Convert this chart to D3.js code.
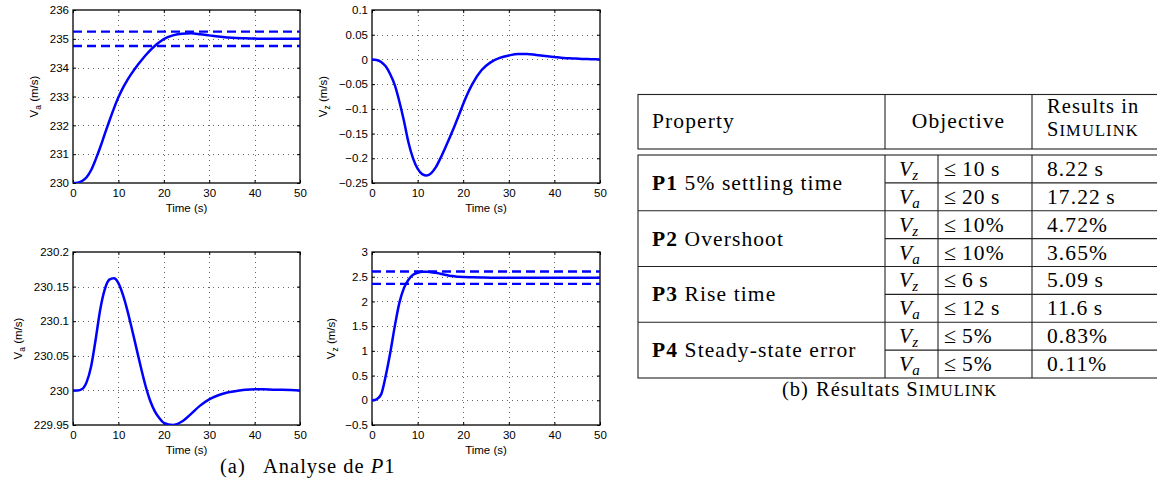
<!DOCTYPE html>
<html><head><meta charset="utf-8">
<script src="https://cdn.jsdelivr.net/npm/d3@7"></script>
<style>body{margin:0;background:#fff;} svg{display:block;}</style>
</head><body>
<svg id="c" width="1157" height="501"></svg>
<script>
// ---------- DATA ----------
const time   = [0,1,2,3,4,5,6,7,8,9,10,11,12,13,14,15,16,17,18,19,20,22,24,26,28,30,32,34,36,38,40,42,44,46,48,50];
// (1) Va response to Va step (m/s)
const vaStep = [230,230.01,230.07,230.2,230.45,230.82,231.24,231.7,232.15,232.58,232.97,233.3,233.58,233.82,234.04,234.24,234.43,234.6,234.75,234.88,234.99,235.12,235.18,235.19,235.16,235.12,235.08,235.05,235.03,235.02,235.01,235.0,235.0,235.0,235.0,235.0];
// (2) Vz response to Va step (m/s)
const vzDist = [0,-0.001,-0.005,-0.014,-0.03,-0.052,-0.085,-0.124,-0.168,-0.2,-0.221,-0.232,-0.235,-0.23,-0.218,-0.2,-0.18,-0.159,-0.137,-0.114,-0.09,-0.05,-0.022,-0.006,0.003,0.008,0.011,0.011,0.009,0.007,0.005,0.003,0.002,0.001,0.0005,0];
// (3) Va response to Vz step (m/s)
const vaDist = [230,230,230.002,230.012,230.035,230.074,230.117,230.146,230.16,230.162,230.155,230.138,230.115,230.088,230.06,230.032,230.006,229.985,229.97,229.96,229.953,229.95,229.955,229.966,229.978,229.987,229.993,229.997,229.999,230.001,230.0015,230.0015,230.001,230.0008,230.0004,230];
// (4) Vz response to Vz step (m/s)
const vzStep = [0,0.02,0.12,0.49,0.96,1.5,1.97,2.27,2.44,2.54,2.58,2.6,2.6,2.59,2.58,2.56,2.54,2.52,2.51,2.5,2.495,2.49,2.485,2.48,2.48,2.48,2.48,2.48,2.48,2.48,2.48,2.48,2.48,2.48,2.48,2.48];
// tolerance bands (5%)
const vaBand = [234.75, 235.25];
const vzBand = [2.355, 2.605];
// ticks
const xTicks = [0,10,20,30,40,50];
const yTicks1 = [230,231,232,233,234,235,236];
const yLabels1 = ["230","231","232","233","234","235","236"];
const yTicks2 = [-0.25,-0.2,-0.15,-0.1,-0.05,0,0.05,0.1];
const yLabels2 = ["\u22120.25","\u22120.2","\u22120.15","\u22120.1","\u22120.05","0","0.05","0.1"];
const yTicks3 = [229.95,230,230.05,230.1,230.15,230.2];
const yLabels3 = ["229.95","230","230.05","230.1","230.15","230.2"];
const yTicks4 = [-0.5,0,0.5,1,1.5,2,2.5,3];
const yLabels4 = ["\u22120.5","0","0.5","1","1.5","2","2.5","3"];

// table
const propIds   = ["P1","P2","P3","P4"];
const propNames = ["5% settling time","Overshoot","Rise time","Steady-state error"];
const objVz = ["10\u2009s","10%","6\u2009s","5%"];
const objVa = ["20\u2009s","10%","12\u2009s","5%"];
const resVz = ["8.22\u2009s","4.72%","5.09\u2009s","0.83%"];
const resVa = ["17.22\u2009s","3.65%","11.6\u2009s","0.11%"];

// ---------- DRAW ----------
const svg = d3.select("#c");
const SANS = "'Liberation Sans', Arial, Helvetica, sans-serif";
const SERIF = "'Liberation Serif', 'Times New Roman', serif";
let clipId = 0;

function plot(cfg){
  const x = d3.scaleLinear().domain([0,50]).range([cfg.x0, cfg.x1]);
  const y = d3.scaleLinear().domain([cfg.yTicks[0], cfg.yTicks[cfg.yTicks.length-1]]).range([cfg.y1, cfg.y0]);
  const g = svg.append("g");
  const id = "clip" + (clipId++);
  g.append("clipPath").attr("id", id).append("rect")
    .attr("x", cfg.x0).attr("y", cfg.y0).attr("width", cfg.x1-cfg.x0).attr("height", cfg.y1-cfg.y0);

  // grid
  g.selectAll(".gx").data(xTicks.slice(1,-1)).join("line")
    .attr("x1", d=>Math.round(x(d))+0.5).attr("x2", d=>Math.round(x(d))+0.5)
    .attr("y1", cfg.y0).attr("y2", cfg.y1)
    .attr("stroke","#666").attr("stroke-width",1).attr("stroke-dasharray","1,4");
  g.selectAll(".gy").data(cfg.yTicks.slice(1,-1)).join("line")
    .attr("y1", d=>Math.round(y(d))+0.5).attr("y2", d=>Math.round(y(d))+0.5)
    .attr("x1", cfg.x0).attr("x2", cfg.x1)
    .attr("stroke","#666").attr("stroke-width",1).attr("stroke-dasharray","1,4");

  // axes
  g.append("g").attr("transform", `translate(0,${cfg.y1})`)
    .call(d3.axisBottom(x).tickValues(xTicks).tickSizeInner(-3).tickSizeOuter(0).tickPadding(6));
  g.append("g").attr("transform", `translate(${cfg.x0},0)`)
    .call(d3.axisLeft(y).tickValues(cfg.yTicks).tickFormat((d,i)=>cfg.yLabels[i]).tickSizeInner(-3).tickSizeOuter(0).tickPadding(4));
  g.append("g").attr("transform", `translate(0,${cfg.y0})`)
    .call(d3.axisTop(x).tickValues(xTicks).tickSizeInner(-3).tickSizeOuter(0).tickFormat(""));
  g.append("g").attr("transform", `translate(${cfg.x1},0)`)
    .call(d3.axisRight(y).tickValues(cfg.yTicks).tickSizeInner(-3).tickSizeOuter(0).tickFormat(""));
  g.selectAll(".domain").remove();
  g.selectAll(".tick line").attr("stroke","#000");
  g.selectAll(".tick text").attr("font-family", SANS).attr("font-size", 11.5).attr("fill","#000");

  // frame
  g.append("rect").attr("x", cfg.x0).attr("y", cfg.y0)
    .attr("width", cfg.x1-cfg.x0).attr("height", cfg.y1-cfg.y0)
    .attr("fill","none").attr("stroke","#000").attr("stroke-width",1.3);

  const pg = g.append("g").attr("clip-path", `url(#${id})`);
  if (cfg.band){
    pg.selectAll(".band").data(cfg.band).join("line")
      .attr("x1", x(0)).attr("x2", x(50)).attr("y1", d=>y(d)).attr("y2", d=>y(d))
      .attr("stroke","#0000ff").attr("stroke-width",2.4).attr("stroke-dasharray","9,5");
  }
  const line = d3.line().x((d,i)=>x(time[i])).y(d=>y(d)).curve(d3.curveMonotoneX);
  pg.append("path").datum(cfg.values).attr("d", line)
    .attr("fill","none").attr("stroke","#0000ff").attr("stroke-width",2.5);

  // labels
  g.append("text").attr("x", (cfg.x0+cfg.x1)/2).attr("y", cfg.y1+29)
    .attr("text-anchor","middle").attr("font-family",SANS).attr("font-size",11.5).text("Time (s)");
  const yl = g.append("text")
    .attr("transform", `translate(${cfg.ylx},${(cfg.y0+cfg.y1)/2}) rotate(-90)`)
    .attr("text-anchor","middle").attr("font-family",SANS).attr("font-size",11.5);
  yl.append("tspan").text("V");
  yl.append("tspan").attr("font-size",8.5).attr("dy",3).text(cfg.sub);
  yl.append("tspan").attr("dy",-3).text(" (m/s)");
}

plot({x0:73,x1:300,y0:10,y1:183,yTicks:yTicks1,yLabels:yLabels1,values:vaStep,band:vaBand,ylx:38,sub:"a"});
plot({x0:372,x1:600,y0:10,y1:183,yTicks:yTicks2,yLabels:yLabels2,values:vzDist,ylx:327,sub:"z"});
plot({x0:73,x1:300,y0:252,y1:425,yTicks:yTicks3,yLabels:yLabels3,values:vaDist,ylx:22,sub:"a"});
plot({x0:372,x1:600,y0:252,y1:425,yTicks:yTicks4,yLabels:yLabels4,values:vzStep,band:vzBand,ylx:335,sub:"z"});

// caption (a)
const capA = svg.append("text").attr("y",473).attr("font-family",SERIF).attr("font-size",20.5).attr("letter-spacing",1);
capA.append("tspan").attr("x",220).text("(a)");
capA.append("tspan").attr("x",263).text("Analyse de ");
capA.append("tspan").attr("font-style","italic").text("P");
capA.append("tspan").text("1");

// ---------- TABLE ----------
const T = {x0:638, x1:885, x2:938, x3:1032, x4:1180, hy0:94.5, hy1:149, by0:155, by1:378};
const rowH = (T.by1 - T.by0) / propIds.length;
const tg = svg.append("g");
const stroke = (sel)=>sel.attr("stroke","#222").attr("stroke-width",1.1).attr("fill","none");
stroke(tg.append("rect").attr("x",T.x0).attr("y",T.hy0).attr("width",T.x4-T.x0).attr("height",T.hy1-T.hy0));
stroke(tg.append("rect").attr("x",T.x0).attr("y",T.by0).attr("width",T.x4-T.x0).attr("height",T.by1-T.by0));
[T.x1,T.x3].forEach(xx=>stroke(tg.append("line").attr("x1",xx).attr("x2",xx).attr("y1",T.hy0).attr("y2",T.hy1)));
[T.x1,T.x2,T.x3].forEach(xx=>stroke(tg.append("line").attr("x1",xx).attr("x2",xx).attr("y1",T.by0).attr("y2",T.by1)));
propIds.forEach((p,i)=>{
  const yt = T.by0 + i*rowH;
  if (i>0) stroke(tg.append("line").attr("x1",T.x0).attr("x2",T.x4).attr("y1",yt).attr("y2",yt));
  stroke(tg.append("line").attr("x1",T.x1).attr("x2",T.x4).attr("y1",yt+rowH/2).attr("y2",yt+rowH/2));
});

const FS = 21.5;
const txt = (x,y,size)=>tg.append("text").attr("x",x).attr("y",y).attr("font-family",SERIF)
  .attr("font-size",size||FS).attr("letter-spacing",1.1).attr("fill","#000");
txt(652,128).text("Property");
txt((T.x1+T.x3)/2,128).attr("text-anchor","middle").text("Objective");
txt(1047,113,20.5).text("Results in");
const sm = txt(1047,136,20.5); sm.append("tspan").text("S"); sm.append("tspan").attr("font-size",16.5).text("IMULINK");

propIds.forEach((p,i)=>{
  const yt = T.by0 + i*rowH;
  const t = txt(652, yt + rowH/2 + 7);
  t.append("tspan").attr("font-weight","bold").text(p);
  t.append("tspan").text(" " + propNames[i]);
  [[objVz,resVz,"z"],[objVa,resVa,"a"]].forEach(([ob,rs,sub],k)=>{
    const yb = yt + k*rowH/2 + rowH/4 + 7;
    const v = txt(899, yb).attr("letter-spacing",0);
    v.append("tspan").attr("font-style","italic").text("V");
    v.append("tspan").attr("font-style","italic").attr("font-size",15).attr("dy",4).text(sub);
    txt(944, yb, 22).attr("letter-spacing",0).text("\u2264");
    txt(962, yb).text(ob[i]);
    txt(1047, yb).text(rs[i]);
  });
});

// caption (b)
const capB = svg.append("text").attr("y",396).attr("font-family",SERIF).attr("font-size",20.5).attr("letter-spacing",1);
capB.append("tspan").attr("x",782).text("(b)");
capB.append("tspan").attr("x",816).text("R\u00e9sultats S");
capB.append("tspan").attr("font-size",16.5).text("IMULINK");
</script>
</body></html>
